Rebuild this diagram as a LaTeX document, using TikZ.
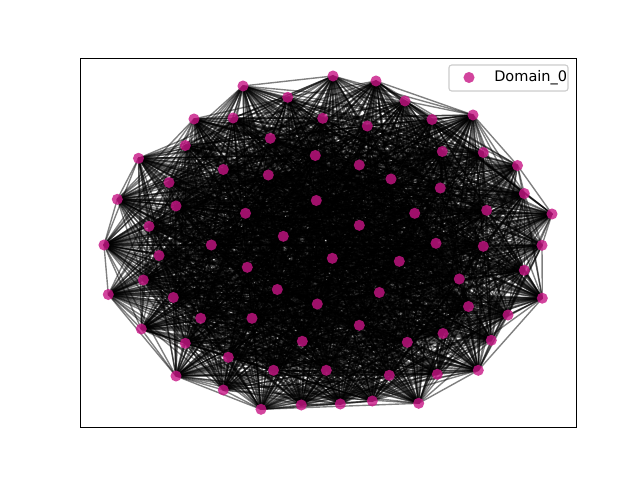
\documentclass[tikz,border=0pt]{standalone}
\usepackage{fontspec}
\setmainfont{DejaVu Sans}
\usetikzlibrary{backgrounds}

\definecolor{domainpink}{RGB}{199,21,133}
\tikzset{
  vertex/.style={circle, fill=domainpink, fill opacity=0.8, inner sep=0pt, minimum size=8pt},
  link/.style={black, opacity=0.5, line width=1pt},
  legendframe/.style={draw=black!20, fill=white, fill opacity=0.8, rounded corners=2pt, line width=0.8pt, inner sep=0pt},
}

\begin{document}
\begin{tikzpicture}[x=0.01in, y=-0.01in]
  \useasboundingbox (0,0) rectangle (640,480);

  % Nodes of the graph
  \foreach \i/\x/\y in {
     1/333/76,   2/376/81,   3/243/86,   4/405/101,  5/287.7/97.3,
     6/473/115,  7/194/119,  8/233/118,  9/432/119.5, 10/322.7/118.3,
    11/367.3/126, 12/185.3/145.5, 13/270.3/138.3, 14/442.3/151.5, 15/483.3/152.5,
    16/138.5/158.3, 17/517.5/165.5, 18/315.3/155.5, 19/359.3/165, 20/268.3/175,
    21/223.3/169.5, 22/169/182.5, 23/391/179, 24/440.3/188, 25/524.3/193.5,
    26/117.3/199.3, 27/176/206, 28/316.3/200.5, 29/552/214, 30/245.5/213.3,
    31/414.7/213.3, 32/486.7/210.3, 33/149/226.3, 34/359.3/225.3, 35/283.3/236.3,
    36/104/245, 37/211.3/245, 38/436/243.3, 39/483.3/246.3, 40/542/245.3,
    41/159/255.5, 42/332.3/258.3, 43/399.3/261.3, 44/247.3/267.3, 45/524.3/270.3,
    46/459.3/279, 47/143.3/280, 48/108.3/294.5, 49/277.3/289.5, 50/379.3/292.5,
    51/542.3/298.2, 52/173.3/297.5, 53/468.5/306.5, 54/317.3/304, 55/508/315,
    56/200.7/318.3, 57/252/318.3, 58/359.3/325.3, 59/443/333.5, 60/141.3/329,
    61/491.3/340.3, 62/185.3/343.3, 63/302.3/341.3, 64/407.3/342.3, 65/228.3/357.3,
    66/478.3/370.3, 67/273.5/370.3, 68/326.3/370.3, 69/176/376, 70/389.3/375.3,
    71/437.3/374.3, 72/223.3/390, 73/261/409.3, 74/301.3/405, 75/340.3/404,
    76/372.3/401, 77/418.7/403.3}
    \node[vertex] (n\i) at (\x,\y) {};

  % Edges (random dense graph)
  \pgfmathsetseed{7}
  \begin{scope}[on background layer]
    \foreach \i in {1,...,76} {
      \pgfmathtruncatemacro\k{\i+1}
      \foreach \j in {\k,...,77} {
        \pgfmathtruncatemacro\keep{rnd<0.7}
        \ifnum\keep=1 \draw[link] (n\i.center) -- (n\j.center); \fi
      }
    }
  \end{scope}

  % Axes frame
  \draw[line width=0.7pt] (80,58) rectangle (576,427);

  % Legend
  \node[legendframe, minimum width=1.19in, minimum height=0.26in] (legend) at (508.5,78) {};
  \node[vertex] (legmark) at (469,77.5) {};
  \node[anchor=base west, inner sep=0pt, font=\fontsize{10.5}{12}\selectfont] (legtext) at (494,82) {Domain\_0};
\end{tikzpicture}
\end{document}
